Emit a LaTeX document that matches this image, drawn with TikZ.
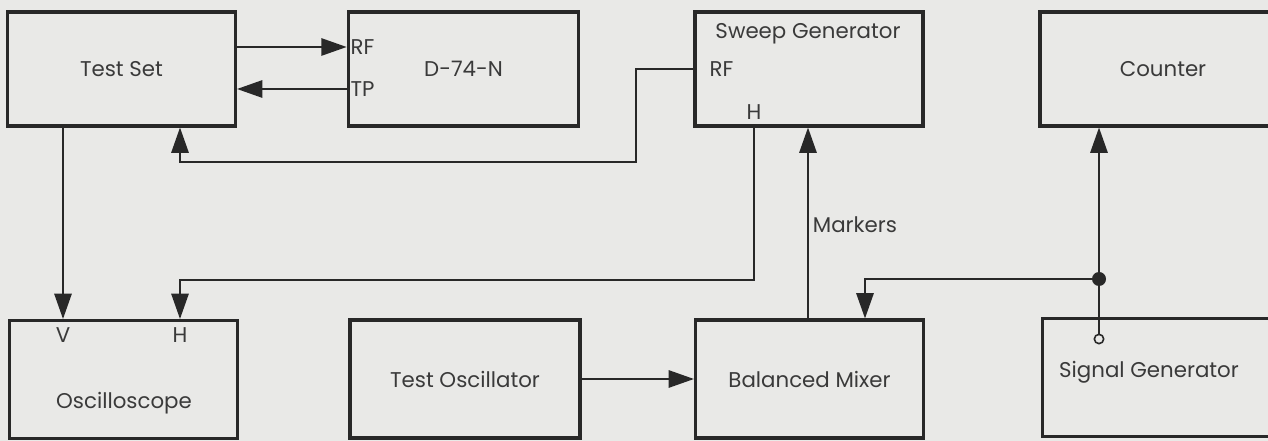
\documentclass[tikz,border=0pt]{standalone}
\usepackage{fontspec}
\setmainfont{Poppins}
\usetikzlibrary{arrows.meta}

\definecolor{paper}{RGB}{233,233,231}
\definecolor{ink}{RGB}{40,40,40}
\definecolor{inktext}{RGB}{58,58,58}

\tikzset{
	blk/.style={draw=ink, line width=2.3pt, minimum width=171pt,
		minimum height=85.5pt, inner sep=0pt, text=inktext,
		font=\fontsize{16}{18}\selectfont},
	lowblk/.style={blk, minimum height=88.5pt},
	lbl/.style={inner sep=1pt, text=inktext, font=\fontsize{16}{18}\selectfont},
	conn/.style={draw=ink, line width=1.4pt,
		-{Triangle[length=19pt,width=13pt]}},
	wire/.style={draw=ink, line width=1.4pt},
	dot/.style={circle, fill=ink, inner sep=0pt, minimum size=10.5pt},
	port/.style={circle, draw=ink, fill=paper, line width=1.2pt,
		inner sep=0pt, minimum size=7pt},
}

\begin{document}
\begin{tikzpicture}
	[x=0.75pt, y=-0.75pt]
	\useasboundingbox (0,0) rectangle (1268,441);
	\clip (0,0) rectangle (1268,441);
	\fill[paper] (0,0) rectangle (1268,441);

	% top row
	\node[blk] (tset) at (121.5,69) {Test Set};
	\node[blk, minimum width=173pt] (dev) at (463.5,69) {D-74-N};
	\node[blk] (sweep) at (809,69) {};
	\node[blk, minimum width=184.5pt] (counter) at (1163,69) {Counter};
	% bottom row
	\node[lowblk] (scope) at (123.5,379.5) {};
	\node[lowblk, minimum width=172.5pt] (tosc) at (465,379) {Test Oscillator};
	\node[lowblk] (mixer) at (809.5,379) {Balanced Mixer};
	\node[lowblk, minimum width=190pt] (siggen) at (1169,377.5) {};

	% texts and ports
	\node[lbl] (sweep-name) at (808,34) {Sweep Generator};
	\node[lbl, anchor=west] (sweep-rf) at (708,69) {RF};
	\node[lbl] (sweep-h) at (754,112) {H};
	\node[lbl, anchor=west] (dev-rf) at (349,47) {RF};
	\node[lbl, anchor=west] (dev-tp) at (349,89) {TP};
	\node[lbl] (scope-name) at (124,403) {Oscilloscope};
	\node[lbl] (scope-v) at (63,335) {V};
	\node[lbl] (scope-h) at (180,335) {H};
	\node[lbl] (siggen-name) at (1149,372) {Signal Generator};
	\node[dot] (jn) at (1099,279) {};
	\node[port] (sg-out) at (1099,339) {};

	\coordinate (rf-bend) at (636,162);
	\coordinate (h-bend) at (180,280);
	\coordinate (mk) at (808,225);
	\coordinate (mx) at (865,279);

	% connectors
	\draw[conn] (tset.east |- dev-rf) -- (dev.west |- dev-rf);
	\draw[conn] (dev.west |- dev-tp) -- (tset.east |- dev-tp);
	\draw[conn] (sweep.west) -| (rf-bend) -| (tset.south -| scope-h);
	\draw[conn] (tset.south -| scope-v) -- (scope.north -| scope-v);
	\draw[conn] (sweep.south -| sweep-h) |- (h-bend) -- (scope.north -| scope-h);
	\draw[conn] (mixer.north -| mk) -- (sweep.south -| mk)
		node[lbl, pos=0.49, right=2pt] (markers) {Markers};
	\draw[conn] (tosc.east) -- (mixer.west);
	\draw[wire] (sg-out) -- (jn);
	\draw[conn] (jn) -- (counter.south -| jn);
	\draw[conn] (jn) -- (mx) -- (mixer.north -| mx);
\end{tikzpicture}
\end{document}
